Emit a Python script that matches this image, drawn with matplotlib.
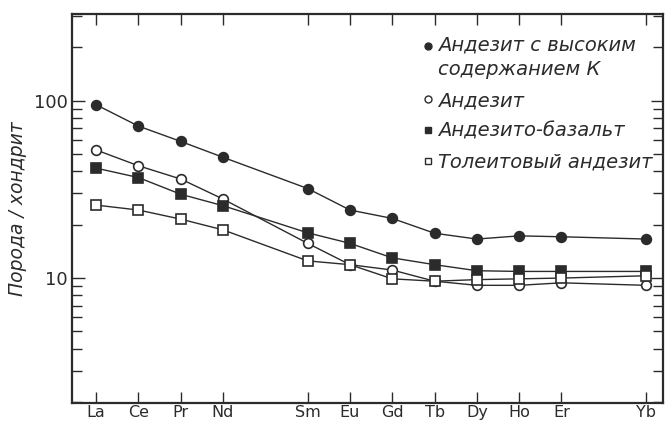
import matplotlib
matplotlib.use("Agg")
import matplotlib.pyplot as plt
from matplotlib.ticker import FixedLocator, NullFormatter

# REE positions (Pm and Tm left as gaps)
elements = ["La", "Ce", "Pr", "Nd", "Sm", "Eu", "Gd", "Tb", "Dy", "Ho", "Er", "Yb"]
positions = [0, 1, 2, 3, 5, 6, 7, 8, 9, 10, 11, 13]

high_k = [95, 72, 59, 48, 32, 24.2, 21.7, 17.9, 16.6, 17.3, 17.1, 16.6]
andesite = [52.8, 43, 36.2, 27.9, 15.7, 11.9, 11.1, 9.6, 9.1, 9.1, 9.4, 9.1]
and_basalt = [41.7, 36.9, 29.7, 25.6, 18.0, 15.7, 13.0, 11.9, 11.0, 10.9, 10.9, 10.9]
tholeiite = [25.8, 24.2, 21.5, 18.7, 12.5, 11.9, 9.9, 9.6, 9.8, 9.9, 10.0, 10.3]

labels = ["Андезит с высоким\nсодержанием К", "Андезит",
          "Андезито-базальт", "Толеитовый андезит"]

ink = "#2b2b2b"

fig = plt.figure(figsize=(6.67, 4.23), dpi=100)
ax = fig.add_axes([0.108, 0.047, 0.886, 0.920])

styles = [("o", ink), ("o", "white"), ("s", ink), ("s", "white")]
series = [high_k, andesite, and_basalt, tholeiite]
for vals, (m, fc), lab in zip(series, styles, labels):
    ax.plot(positions, vals, color=ink, lw=1.0, marker=m, ms=7,
            mfc=fc, mec=ink, mew=1.2, label=lab)

ax.set_yscale("log")
ax.set_xlim(-0.57, 13.4)
ax.set_ylim(1.97, 309)

ax.set_xticks(positions)
ax.set_xticklabels(elements, fontsize=11.5, color=ink)
ax.yaxis.set_major_locator(FixedLocator([10, 100]))
ax.set_yticklabels(["10", "100"], fontsize=13, color=ink)
ax.yaxis.set_minor_locator(FixedLocator([2, 3, 4, 5, 6, 7, 8, 9,
                                         20, 30, 40, 50, 60, 70, 80, 90, 200, 300]))
ax.yaxis.set_minor_formatter(NullFormatter())
ax.tick_params(axis="x", direction="in", top=True, length=8, width=1.0, color=ink, pad=1.5)
ax.tick_params(axis="y", which="both", direction="in", right=True, length=7,
               width=1.0, color=ink, pad=3)
ax.tick_params(axis="y", which="major", length=9)

for s in ax.spines.values():
    s.set_color(ink)
    s.set_linewidth(1.6)

ax.set_ylabel("Порода / хондрит", fontsize=13.5, style="italic", color=ink, labelpad=5)

leg_handles = []
for (m, fc) in styles:
    h, = ax.plot([], [], ls="none", marker=m, ms=5, mfc=fc, mec=ink, mew=1.0)
    leg_handles.append(h)
leg = ax.legend(leg_handles, labels, loc="upper right", frameon=False,
                handlelength=0.5, handletextpad=0.25, labelspacing=0.6,
                borderaxespad=0.0, bbox_to_anchor=(0.995, 0.965),
                prop={"size": 14, "style": "italic"})
for t in leg.get_texts():
    t.set_color(ink)
leg.get_texts()[0].set_linespacing(1.4)
# marker of the two-line entry sits on its first line
h0 = leg.legend_handles[0]
h0.set_ydata([y + 9 for y in h0.get_ydata()])

fig.savefig("out.png", dpi=100)
